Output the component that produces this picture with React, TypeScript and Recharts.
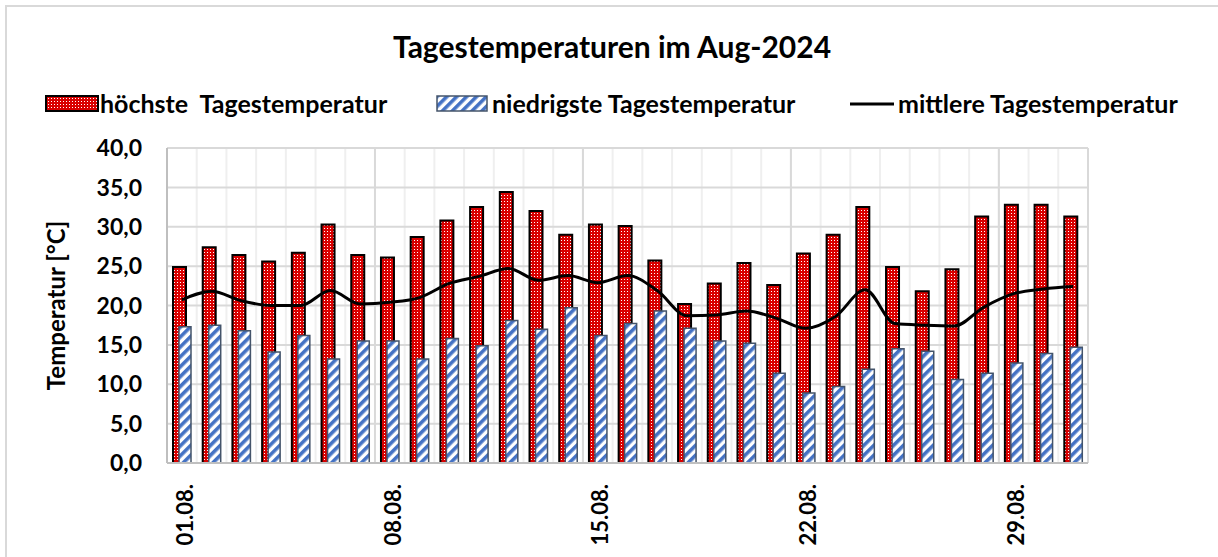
import { ComposedChart, Bar, Line, XAxis, YAxis, CartesianGrid, Legend } from 'recharts'

const days = [
  '01.08.', '02.08.', '03.08.', '04.08.', '05.08.', '06.08.', '07.08.', '08.08.',
  '09.08.', '10.08.', '11.08.', '12.08.', '13.08.', '14.08.', '15.08.', '16.08.',
  '17.08.', '18.08.', '19.08.', '20.08.', '21.08.', '22.08.', '23.08.', '24.08.',
  '25.08.', '26.08.', '27.08.', '28.08.', '29.08.', '30.08.', '31.08.',
]

const hoechste = [
  24.9, 27.4, 26.4, 25.6, 26.7, 30.3, 26.4, 26.1, 28.7, 30.8, 32.5, 34.4, 32.0, 29.0, 30.3, 30.1,
  25.7, 20.2, 22.8, 25.4, 22.6, 26.6, 29.0, 32.5, 24.9, 21.8, 24.6, 31.3, 32.8, 32.8, 31.3,
]

const niedrigste = [
  17.3, 17.5, 16.8, 14.1, 16.2, 13.2, 15.5, 15.5, 13.2, 15.8, 14.9, 18.1, 17.0, 19.7, 16.2, 17.7,
  19.3, 17.1, 15.5, 15.2, 11.4, 8.9, 9.7, 11.9, 14.5, 14.2, 10.6, 11.4, 12.7, 13.9, 14.7,
]

const mittlere = [
  20.7, 21.8, 20.6, 20.0, 20.0, 21.9, 20.2, 20.4, 21.0, 22.8, 23.7, 24.7, 23.2, 23.8, 22.9, 23.8,
  21.9, 18.7, 18.8, 19.3, 18.4, 17.1, 18.6, 22.0, 17.7, 17.5, 17.4, 19.8, 21.5, 22.1, 22.4,
]

const yTicks = [0, 5, 10, 15, 20, 25, 30, 35, 40]

const data = days.map((day, i) => ({
  day,
  max: hoechste[i],
  min: niedrigste[i],
  avg: mittlere[i],
}))

const FONT = 'Lato, "Open Sans", sans-serif'

function XTick({ x, y, payload }: any) {
  const tx = x + 3
  const ty = y + 13
  return (
    <text
      x={tx}
      y={ty}
      transform={`rotate(-90 ${tx} ${ty})`}
      textAnchor='end'
      dy='0.35em'
      fontFamily={FONT}
      fontWeight='bold'
      fontSize={22}
      fill='#000'
    >
      {payload.value}
    </text>
  )
}

function YLabel({ viewBox }: any) {
  const x = 57
  const y = viewBox.y + viewBox.height / 2
  return (
    <text
      x={x}
      y={y}
      transform={`rotate(-90 ${x} ${y})`}
      textAnchor='middle'
      dy='0.35em'
      fontFamily={FONT}
      fontWeight='bold'
      fontSize={24}
      fill='#000'
    >
      Temperatur [°C]
    </text>
  )
}

function LegendContent() {
  const text = {
    position: 'absolute' as const,
    top: 0,
    fontFamily: FONT,
    fontWeight: 'bold' as const,
    fontSize: 25,
    lineHeight: '26px',
    whiteSpace: 'pre' as const,
    color: '#000',
  }
  return (
    <div style={{ position: 'relative', height: 26 }}>
      <svg style={{ position: 'absolute', left: 45, top: 5 }} width={54} height={17}>
        <rect x={1} y={1} width={52} height={15} fill='url(#redDots)' stroke='#000' strokeWidth={2} />
      </svg>
      <span style={{ ...text, left: 100 }}>höchste  Tagestemperatur</span>
      <svg style={{ position: 'absolute', left: 436, top: 5 }} width={52} height={17}>
        <rect x={1} y={1} width={50} height={15} fill='url(#blueStripes)' stroke='#44546A' strokeWidth={1.5} />
      </svg>
      <span style={{ ...text, left: 492 }}>niedrigste Tagestemperatur</span>
      <svg style={{ position: 'absolute', left: 850, top: 5 }} width={44} height={17}>
        <line x1={0} y1={9} x2={44} y2={9} stroke='#000' strokeWidth={3} />
      </svg>
      <span style={{ ...text, left: 898 }}>mittlere Tagestemperatur</span>
    </div>
  )
}

export default function App() {
  return (
    <div
      style={{
        position: 'absolute',
        left: 0,
        top: 0,
        width: 1218,
        height: 557,
        background: '#fff',
        overflow: 'hidden',
      }}
    >
      <svg width={0} height={0} style={{ position: 'absolute' }}>
        <defs>
          <pattern id='redDots' patternUnits='userSpaceOnUse' width={3} height={3}>
            <rect width={3} height={3} fill='#D90000' />
            <rect width={1} height={1} fill='#fff' />
          </pattern>
          <pattern
            id='blueStripes'
            patternUnits='userSpaceOnUse'
            width={7}
            height={7}
            patternTransform='rotate(45)'
          >
            <rect width={7} height={7} fill='#fff' />
            <rect width={3.6} height={7} fill='#4472C4' />
          </pattern>
        </defs>
      </svg>
      <div style={{ position: 'absolute', left: 5, top: 5, width: 2, height: 560, background: '#D9D9D9' }} />
      <div style={{ position: 'absolute', left: 5, top: 5, width: 1220, height: 2, background: '#D9D9D9' }} />
      <div
        style={{
          position: 'absolute',
          left: 0,
          top: 28,
          width: 1224,
          textAlign: 'center',
          fontFamily: FONT,
          fontWeight: 'bold',
          fontSize: 30,
          lineHeight: '36px',
          color: '#000',
        }}
      >
        Tagestemperaturen im Aug-2024
      </div>
      <ComposedChart
        width={1218}
        height={557}
        data={data}
        margin={{ top: 148, right: 130, bottom: 0, left: 0 }}
        barGap={-7}
        style={{ position: 'absolute', left: 0, top: 0 }}
      >
        <CartesianGrid
          stroke='#EFEFEF'
          strokeWidth={2}
          horizontal={false}
          verticalCoordinatesGenerator={({ offset }: any) =>
            days.map((_, i) => offset.left + (i * offset.width) / days.length).concat(offset.left + offset.width)
          }
        />
        <CartesianGrid
          stroke='#D9D9D9'
          strokeWidth={2}
          verticalCoordinatesGenerator={({ offset }: any) =>
            [7, 14, 21, 28, 31].map((i) => offset.left + (i * offset.width) / days.length)
          }
        />
        <XAxis
          dataKey='day'
          interval={6}
          tickLine={false}
          axisLine={{ stroke: '#BFBFBF', strokeWidth: 2 }}
          height={94}
          tick={<XTick />}
        />
        <YAxis
          domain={[0, 40]}
          ticks={yTicks}
          width={167}
          tickLine={false}
          tickMargin={19}
          axisLine={{ stroke: '#BFBFBF', strokeWidth: 2 }}
          tickFormatter={(v: number) => v.toFixed(1).replace('.', ',')}
          tick={{ fontFamily: FONT, fontWeight: 'bold', fontSize: 23, fill: '#000' }}
          label={<YLabel />}
        />
        <Legend
          verticalAlign='middle'
          content={<LegendContent />}
          wrapperStyle={{ position: 'absolute', left: 0, top: 90, width: 1218 }}
        />
        <Bar
          dataKey='max'
          name='höchste  Tagestemperatur'
          barSize={13}
          fill='url(#redDots)'
          stroke='#000'
          strokeWidth={2}
          isAnimationActive={false}
        />
        <Bar
          dataKey='min'
          name='niedrigste Tagestemperatur'
          barSize={12}
          fill='url(#blueStripes)'
          stroke='#44546A'
          strokeWidth={1.5}
          isAnimationActive={false}
        />
        <Line
          dataKey='avg'
          name='mittlere Tagestemperatur'
          type='monotone'
          stroke='#000'
          strokeWidth={3}
          dot={false}
          isAnimationActive={false}
        />
      </ComposedChart>
    </div>
  )
}
